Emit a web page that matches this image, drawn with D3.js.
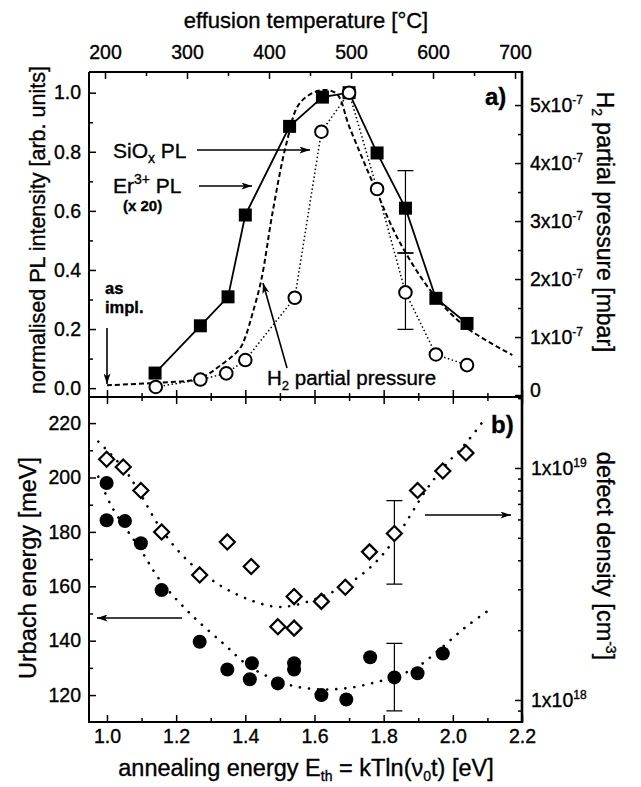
<!DOCTYPE html>
<html>
<head>
<meta charset="utf-8">
<script src="https://cdn.jsdelivr.net/npm/d3@7"></script>
<style>
  body { margin: 0; background: #fff; }
  svg { font-family: "Liberation Sans", Arial, sans-serif; }
  text { stroke: #000; stroke-width: 0.35; }
  .tick line { stroke: #000; stroke-width: 1.5; }
  .tick text { fill: #000; }
</style>
</head>
<body>
<div id="chart"></div>
<script>
const width = 641;
const height = 787;

// plot frame
const frameL = 89, frameR = 522, frameT = 72, frameM = 397, frameB = 722;

// ---- panel a) : photoluminescence and H2 effusion ----
// Er3+ PL (x 20), filled squares
const erE  = [1.139, 1.270, 1.350, 1.400, 1.528, 1.623, 1.700, 1.781, 1.863, 1.951, 2.041];
const erPL = [0.051, 0.211, 0.309, 0.586, 0.886, 0.985, 1.000, 0.796, 0.609, 0.304, 0.219];
// SiOx PL, open circles
const siE  = [1.141, 1.270, 1.345, 1.400, 1.543, 1.620, 1.700, 1.781, 1.863, 1.951, 2.041];
const siPL = [0.004, 0.029, 0.050, 0.095, 0.306, 0.868, 1.000, 0.674, 0.324, 0.114, 0.078];
// error bars at 1.863 eV
const erErr = [0.458, 0.736];
const siErr = [0.199, 0.457];
const errE = 1.863;
// H2 partial pressure, units of 1e-7 mbar
const h2E = [1.000, 1.139, 1.268, 1.330, 1.384, 1.400, 1.421, 1.446, 1.480, 1.519, 1.557, 1.615, 1.663, 1.701, 1.778, 1.846, 1.941, 2.038, 2.172];
const h2P = [0.17, 0.21, 0.29, 0.52, 0.80, 1.00, 1.41, 1.98, 3.19, 4.34, 5.03, 5.25, 5.20, 4.62, 3.53, 2.64, 1.76, 1.17, 0.69];

// ---- panel b) : Urbach energy and defect density ----
const urbE = [0.999, 0.999, 1.052, 1.098, 1.158, 1.268, 1.348, 1.419, 1.413, 1.494, 1.541, 1.541, 1.620, 1.692, 1.761, 1.831, 1.898, 1.971];
const urb  = [198.0, 184.3, 184.0, 175.8, 158.6, 139.6, 129.4, 131.7, 125.8, 124.3, 131.7, 129.4, 120.0, 118.4, 133.9, 126.5, 128.0, 135.3];
const defE = [0.999, 1.047, 1.098, 1.158, 1.268, 1.348, 1.417, 1.494, 1.541, 1.541, 1.620, 1.689, 1.759, 1.831, 1.898, 1.971, 2.038];
const def  = [1.09e19, 1.01e19, 8.0e18, 5.3e18, 3.46e18, 4.8e18, 3.76e18, 2.07e18, 2.79e18, 2.04e18, 2.66e18, 3.06e18, 4.35e18, 5.22e18, 8.0e18, 9.7e18, 1.16e19];
const urbErr = [114.2, 139.0];
const defErr = [3.16e18, 7.23e18];
const errE2 = 1.831;
// dotted guide curves
const urbFitE = [0.975, 1.014, 1.098, 1.153, 1.240, 1.336, 1.413, 1.490, 1.547, 1.620, 1.692, 1.764, 1.831, 1.898, 1.971, 2.038, 2.105];
const urbFit  = [200.3, 189.2, 173.3, 162.3, 150.0, 139.0, 130.4, 125.5, 123.1, 122.1, 122.5, 124.3, 126.7, 130.4, 137.8, 145.1, 151.3];
const defFitE = [0.975, 1.052, 1.098, 1.158, 1.240, 1.335, 1.413, 1.490, 1.547, 1.620, 1.692, 1.764, 1.831, 1.923, 1.971, 2.038, 2.086];
const defFit  = [1.30e19, 9.8e18, 7.65e18, 5.41e18, 3.90e18, 3.07e18, 2.70e18, 2.52e18, 2.57e18, 2.79e18, 3.13e18, 3.76e18, 4.90e18, 8.04e18, 9.97e18, 1.28e19, 1.58e19];

// ticks
const eTicks = [1.0, 1.2, 1.4, 1.6, 1.8, 2.0, 2.2];
const eMinor = [1.1, 1.3, 1.5, 1.7, 1.9, 2.1];
const tTicks = [200, 300, 400, 500, 600, 700];
const tMinor = [250, 350, 450, 550, 650];
const plTicks = [0, 0.2, 0.4, 0.6, 0.8, 1.0];
const plMinor = [0.1, 0.3, 0.5, 0.7, 0.9];
const pTicks = [0, 1, 2, 3, 4, 5];
const pMinor = [0.5, 1.5, 2.5, 3.5, 4.5];
const uTicks = [120, 140, 160, 180, 200, 220];
const uMinor = [130, 150, 170, 190, 210];
const dTicks = [1e18, 1e19];
const dMinor = [9e17, 2e18, 3e18, 4e18, 5e18, 6e18, 7e18, 8e18, 9e18, 2e19];

const tickFont = 19.5;

const svg = d3.select('#chart').append('svg')
  .attr('width', width)
  .attr('height', height);

// scales
const x  = d3.scaleLinear().domain([0.948, 2.2]).range([frameL, frameR]);
const xT = d3.scaleLinear().domain([180.5, 708.5]).range([frameL, frameR]);
const yA = d3.scaleLinear().domain([-0.03, 1.07]).range([frameM, frameT]);
const yP = d3.scaleLinear().domain([-0.034, 5.57]).range([frameM, frameT]);
const yU = d3.scaleLinear().domain([110.1, 229.6]).range([frameB, frameM]);
const yD = d3.scaleLog().domain([Math.pow(10, 17.905), Math.pow(10, 19.306)]).range([frameB, frameM]);

// arrow head
svg.append('defs').append('marker')
  .attr('id', 'head')
  .attr('viewBox', '0 0 12 8')
  .attr('refX', 12).attr('refY', 4)
  .attr('markerWidth', 12).attr('markerHeight', 7)
  .attr('markerUnits', 'userSpaceOnUse')
  .attr('orient', 'auto')
  .append('path').attr('d', 'M0,0 L12,4 L0,8 L3,4 Z').attr('fill', '#000');

function axis(gen, tx, ty, values, size, fmt, pad) {
  const g = svg.append('g')
    .attr('transform', `translate(${tx},${ty})`)
    .call(gen.tickValues(values).tickSize(size).tickPadding(pad || 8)
      .tickFormat(fmt || ''));
  g.select('.domain').remove();
  g.selectAll('text').attr('font-size', tickFont);
  return g;
}

// top panel axes
axis(d3.axisTop(xT), 0, frameT, tTicks, -7, d3.format('d'), 13);
axis(d3.axisTop(xT), 0, frameT, tMinor, -4);
axis(d3.axisLeft(yA), frameL, 0, plTicks, -7, d3.format('.1f'), 8);
axis(d3.axisLeft(yA), frameL, 0, plMinor, -4);
const pAxis = axis(d3.axisRight(yP), frameR, 0, pTicks, -7, d3.format('d'), 8);
axis(d3.axisRight(yP), frameR, 0, pMinor, -4);
pAxis.selectAll('.tick text').each(function (d) {
  const t = d3.select(this);
  if (d === 0) { t.attr('dy', '0.05em'); return; }
  t.text(null);
  t.append('tspan').text(`${d}x10`);
  t.append('tspan').attr('dy', -8).attr('font-size', 12).text('-7');
});

// shared middle axis, ticks on both sides
axis(d3.axisBottom(x), 0, frameM, eTicks, -7);
axis(d3.axisBottom(x), 0, frameM, eMinor, -4);
axis(d3.axisTop(x), 0, frameM, eTicks, -7);
axis(d3.axisTop(x), 0, frameM, eMinor, -4);

// bottom panel axes
axis(d3.axisBottom(x), 0, frameB, eTicks, -7, d3.format('.1f'), 7);
axis(d3.axisBottom(x), 0, frameB, eMinor, -4);
axis(d3.axisLeft(yU), frameL, 0, uTicks, -7, d3.format('d'), 8);
axis(d3.axisLeft(yU), frameL, 0, uMinor, -4);
const dAxis = axis(d3.axisRight(yD), frameR, 0, dTicks, -7, d3.format('.0e'), 9);
axis(d3.axisRight(yD), frameR, 0, dMinor, -4);
dAxis.selectAll('.tick text').each(function (d) {
  const t = d3.select(this);
  t.text(null);
  t.append('tspan').text('1x10');
  t.append('tspan').attr('dy', -8).attr('font-size', 12).text(Math.round(Math.log10(d)));
});

// frame
const frame = svg.append('g').attr('stroke', '#000').attr('fill', 'none');
frame.append('path').attr('stroke-width', 2)
  .attr('d', `M${frameL},${frameT}H${frameR}M${frameL},${frameT}V${frameB}H${frameR}M${frameL},${frameM}H${frameR}`);
frame.append('path').attr('stroke-width', 2.6).attr('d', `M${frameR},${frameT - 1}V${frameB + 1}`);

// ---- panel a) marks ----
const gA = svg.append('g');
const lineA = d3.line().x(d => x(d[0])).y(d => yA(d[1]));
const lineP = d3.line().x(d => x(d[0])).y(d => yP(d[1])).curve(d3.curveCatmullRom);

gA.append('path').datum(d3.zip(h2E, h2P)).attr('d', lineP)
  .attr('fill', 'none').attr('stroke', '#000').attr('stroke-width', 2)
  .attr('stroke-dasharray', '5,3');
gA.append('path').datum(d3.zip(siE, siPL)).attr('d', lineA)
  .attr('fill', 'none').attr('stroke', '#000').attr('stroke-width', 1.5)
  .attr('stroke-dasharray', '1.5,2.5');
gA.append('path').datum(d3.zip(erE, erPL)).attr('d', lineA)
  .attr('fill', 'none').attr('stroke', '#000').attr('stroke-width', 1.8);

function errBar(g, xv, lo, hi, ys) {
  const px = x(xv);
  g.append('path')
    .attr('d', `M${px - 8},${ys(lo)}H${px + 8}M${px - 8},${ys(hi)}H${px + 8}M${px},${ys(lo)}V${ys(hi)}`)
    .attr('stroke', '#000').attr('stroke-width', 1.2).attr('fill', 'none');
}
errBar(gA, errE, erErr[0], erErr[1], yA);
errBar(gA, errE, siErr[0], siErr[1], yA);

gA.selectAll('.er').data(d3.zip(erE, erPL)).join('rect')
  .attr('class', 'er')
  .attr('x', d => x(d[0]) - 6.5).attr('y', d => yA(d[1]) - 6.5)
  .attr('width', 13).attr('height', 13).attr('fill', '#000');
gA.selectAll('.si').data(d3.zip(siE, siPL)).join('circle')
  .attr('class', 'si')
  .attr('cx', d => x(d[0])).attr('cy', d => yA(d[1])).attr('r', 6.3)
  .attr('fill', '#fff').attr('stroke', '#000').attr('stroke-width', 2);

// ---- panel b) marks ----
const gB = svg.append('g');
const dotted = (g, pts) => g.append('path').datum(pts)
  .attr('fill', 'none').attr('stroke', '#000').attr('stroke-width', 2.6)
  .attr('stroke-linecap', 'round').attr('stroke-dasharray', '0.1,9');
dotted(gB, d3.zip(urbFitE, urbFit))
  .attr('d', d3.line().x(d => x(d[0])).y(d => yU(d[1])).curve(d3.curveCatmullRom));
dotted(gB, d3.zip(defFitE, defFit))
  .attr('d', d3.line().x(d => x(d[0])).y(d => yD(d[1])).curve(d3.curveCatmullRom));

errBar(gB, errE2, urbErr[0], urbErr[1], yU);
errBar(gB, errE2, defErr[0], defErr[1], yD);

gB.selectAll('.def').data(d3.zip(defE, def)).join('path')
  .attr('class', 'def')
  .attr('d', d => `M${x(d[0])},${yD(d[1]) - 7.5}l7.5,7.5l-7.5,7.5l-7.5,-7.5Z`)
  .attr('fill', '#fff').attr('stroke', '#000').attr('stroke-width', 2.2);
gB.selectAll('.urb').data(d3.zip(urbE, urb)).join('circle')
  .attr('class', 'urb')
  .attr('cx', d => x(d[0])).attr('cy', d => yU(d[1])).attr('r', 7)
  .attr('fill', '#000');

// ---- labels ----
const txt = (px, py, size, weight) => svg.append('text')
  .attr('x', px).attr('y', py).attr('font-size', size)
  .attr('font-weight', weight || 'normal').attr('fill', '#000');

txt(306, 28, 22).attr('text-anchor', 'middle').text('effusion temperature [°C]');

const bt = txt(306, 776, 23.5).attr('text-anchor', 'middle');
bt.append('tspan').text('annealing energy E');
bt.append('tspan').attr('font-size', 14).attr('dy', 5).text('th');
bt.append('tspan').attr('dy', -5).text(' = kTln(\u03bd');
bt.append('tspan').attr('font-size', 14).attr('dy', 5).text('0');
bt.append('tspan').attr('dy', -5).text('t) [eV]');

svg.append('text').attr('transform', 'translate(45,230) rotate(-90)')
  .attr('text-anchor', 'middle').attr('font-size', 21.5)
  .text('normalised PL intensity [arb. units]');
svg.append('text').attr('transform', 'translate(36,568) rotate(-90)')
  .attr('text-anchor', 'middle').attr('font-size', 23.5)
  .text('Urbach energy [meV]');

const rt1 = svg.append('text').attr('transform', 'translate(597,222) rotate(90)')
  .attr('text-anchor', 'middle').attr('font-size', 23);
rt1.append('tspan').text('H');
rt1.append('tspan').attr('font-size', 14).attr('dy', 5).text('2');
rt1.append('tspan').attr('dy', -5).text(' partial pressure [mbar]');

const rt2 = svg.append('text').attr('transform', 'translate(597,556) rotate(90)')
  .attr('text-anchor', 'middle').attr('font-size', 23.5);
rt2.append('tspan').text('defect density [cm');
rt2.append('tspan').attr('font-size', 14).attr('dy', -9).text('-3');
rt2.append('tspan').attr('dy', 9).text(']');

txt(485, 105, 24, 'bold').text('a)');
txt(491, 433, 24, 'bold').text('b)');

const s1 = txt(113, 158, 21);
s1.append('tspan').text('SiO');
s1.append('tspan').attr('font-size', 14).attr('dy', 5).text('x');
s1.append('tspan').attr('dy', -5).text(' PL');
const s2 = txt(113, 193, 21);
s2.append('tspan').text('Er');
s2.append('tspan').attr('font-size', 14).attr('dy', -9).text('3+');
s2.append('tspan').attr('dy', 9).text(' PL');
txt(123, 211, 15, 'bold').text('(x 20)');
txt(105, 294, 16.5, 'bold').text('as');
txt(105, 313, 16.5, 'bold').text('impl.');

const s3 = txt(267, 385, 20.5);
s3.append('tspan').text('H');
s3.append('tspan').attr('font-size', 13).attr('dy', 5).text('2');
s3.append('tspan').attr('dy', -5).text(' partial pressure');

const arrows = [
  [197, 150, 310, 150],
  [199, 186, 252, 186],
  [107, 328, 107, 384],
  [287, 368, 263, 283],
  [182, 618, 97, 618],
  [425, 515, 511, 515]
];
svg.append('g').selectAll('line').data(arrows).join('line')
  .attr('x1', d => d[0]).attr('y1', d => d[1])
  .attr('x2', d => d[2]).attr('y2', d => d[3])
  .attr('stroke', '#000').attr('stroke-width', 1.6)
  .attr('marker-end', 'url(#head)');
</script>
</body>
</html>
